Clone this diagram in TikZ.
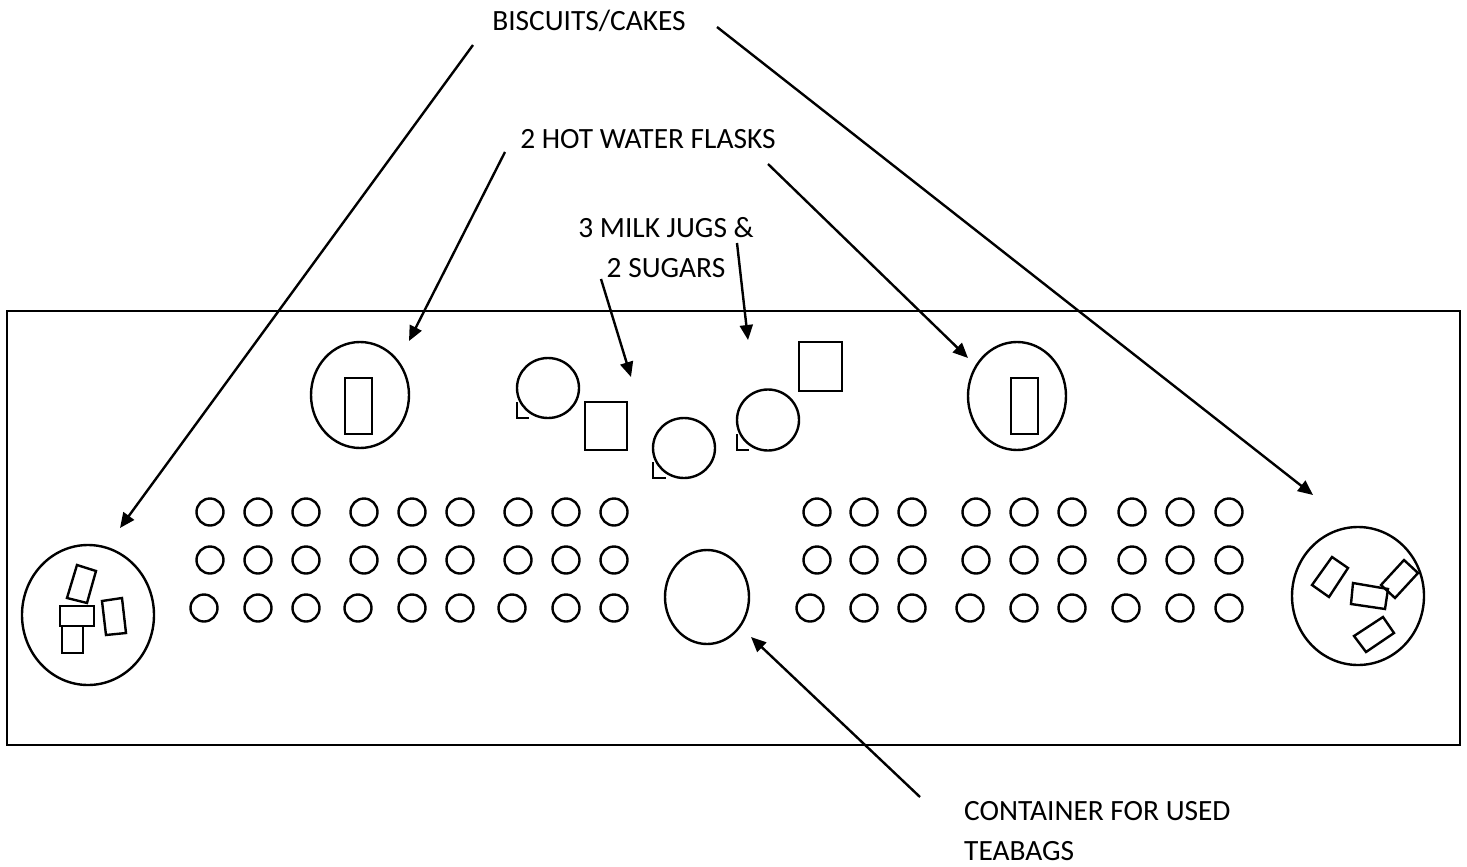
\documentclass[tikz,border=0pt]{standalone}
\usepackage{fontspec}
\setmainfont{Carlito}
\usetikzlibrary{arrows.meta}

\begin{document}
\begin{tikzpicture}[
  x=0.5pt, y=-0.5pt,
  line width=1.2pt,
  lbl/.style={font=\fontsize{14.7}{20}\selectfont, inner sep=0pt},
  arrow/.style={-{Triangle[length=7.5pt, width=6.5pt]}, line width=1.2pt}
]
\useasboundingbox (0,0) rectangle (1467,867);

% table top
\draw (7,311) rectangle (1460,745);

% cups
\foreach \cy/\xs in {
  512/{210,258,306,364,412,460,518,566,614,817,864,912,976,1024,1072,1132,1180,1229},
  560/{210,258,306,364,412,460,518,566,614,817,864,912,976,1024,1072,1132,1180,1229},
  608/{204,258,306,358,412,460,512,566,614,810,864,912,970,1024,1072,1126,1180,1229}}
  \foreach \cx in \xs
    \draw (\cx,\cy) circle [radius=13.5];

% hot water flasks
\draw (360,395) ellipse [x radius=49, y radius=53];
\draw (345,378) rectangle (372,434);
\draw (1017,396) ellipse [x radius=49, y radius=54];
\draw (1011,378) rectangle (1038,434);

% milk jugs and sugars
\draw (548,388) ellipse [x radius=31, y radius=30];
\draw (517,402) |- (529,418);
\draw (684,448) ellipse [x radius=31, y radius=30];
\draw (653,462) |- (666,478);
\draw (768,420) ellipse [x radius=31, y radius=30.5];
\draw (737,434) |- (749,450);
\draw (585,402) rectangle (627,450);
\draw (799,342) rectangle (842,391);

% teabag container
\draw (707,597) ellipse [x radius=42, y radius=47];

% biscuit plates
\draw (88,615) ellipse [x radius=66, y radius=70];
\draw (77,565) -- (96,571) -- (87,603) -- (67,598) -- cycle;
\draw (60,606) rectangle (94,626);
\draw (62,626) rectangle (83,653);
\draw (102,601) -- (122,598) -- (126,633) -- (106,635) -- cycle;

\draw (1358,596) ellipse [x radius=66, y radius=69];
\draw (1332,557) -- (1348,568) -- (1329,597) -- (1312,585) -- cycle;
\draw (1353,583) -- (1388,589) -- (1385,609) -- (1351,604) -- cycle;
\draw (1404,560) -- (1418,573) -- (1395,598) -- (1381,585) -- cycle;
\draw (1383,617) -- (1394,633) -- (1366,652) -- (1354,636) -- cycle;

% labels
\node[lbl, anchor=base] (biscuits) at (589,30) {BISCUITS/CAKES};
\node[lbl, anchor=base] (flasks) at (648,148) {2 HOT WATER FLASKS};
\node[lbl, anchor=north, align=center] (milk) at (666,216) {3 MILK JUGS \&\\2 SUGARS};
\node[lbl, anchor=north west, align=left] (bin) at (963,800) {CONTAINER FOR USED\\TEABAGS};

% arrow ends
\coordinate (bisL-s) at (473,45);
\coordinate (bisL-e) at (120,528);
\coordinate (bisR-s) at (717,27);
\coordinate (bisR-e) at (1313,495);
\coordinate (flaskL-s) at (505,152);
\coordinate (flaskL-e) at (409,341);
\coordinate (flaskR-s) at (768,164);
\coordinate (flaskR-e) at (968,358);
\coordinate (milkL-s) at (601,279);
\coordinate (milkL-e) at (631,377);
\coordinate (milkR-s) at (737,243);
\coordinate (milkR-e) at (748,340);
\coordinate (bin-s) at (920,797);
\coordinate (bin-e) at (751,637);

\draw[arrow] (bisL-s) -- (bisL-e);
\draw[arrow] (bisR-s) -- (bisR-e);
\draw[arrow] (flaskL-s) -- (flaskL-e);
\draw[arrow] (flaskR-s) -- (flaskR-e);
\draw[arrow] (milkL-s) -- (milkL-e);
\draw[arrow] (milkR-s) -- (milkR-e);
\draw[arrow] (bin-s) -- (bin-e);
\end{tikzpicture}
\end{document}
